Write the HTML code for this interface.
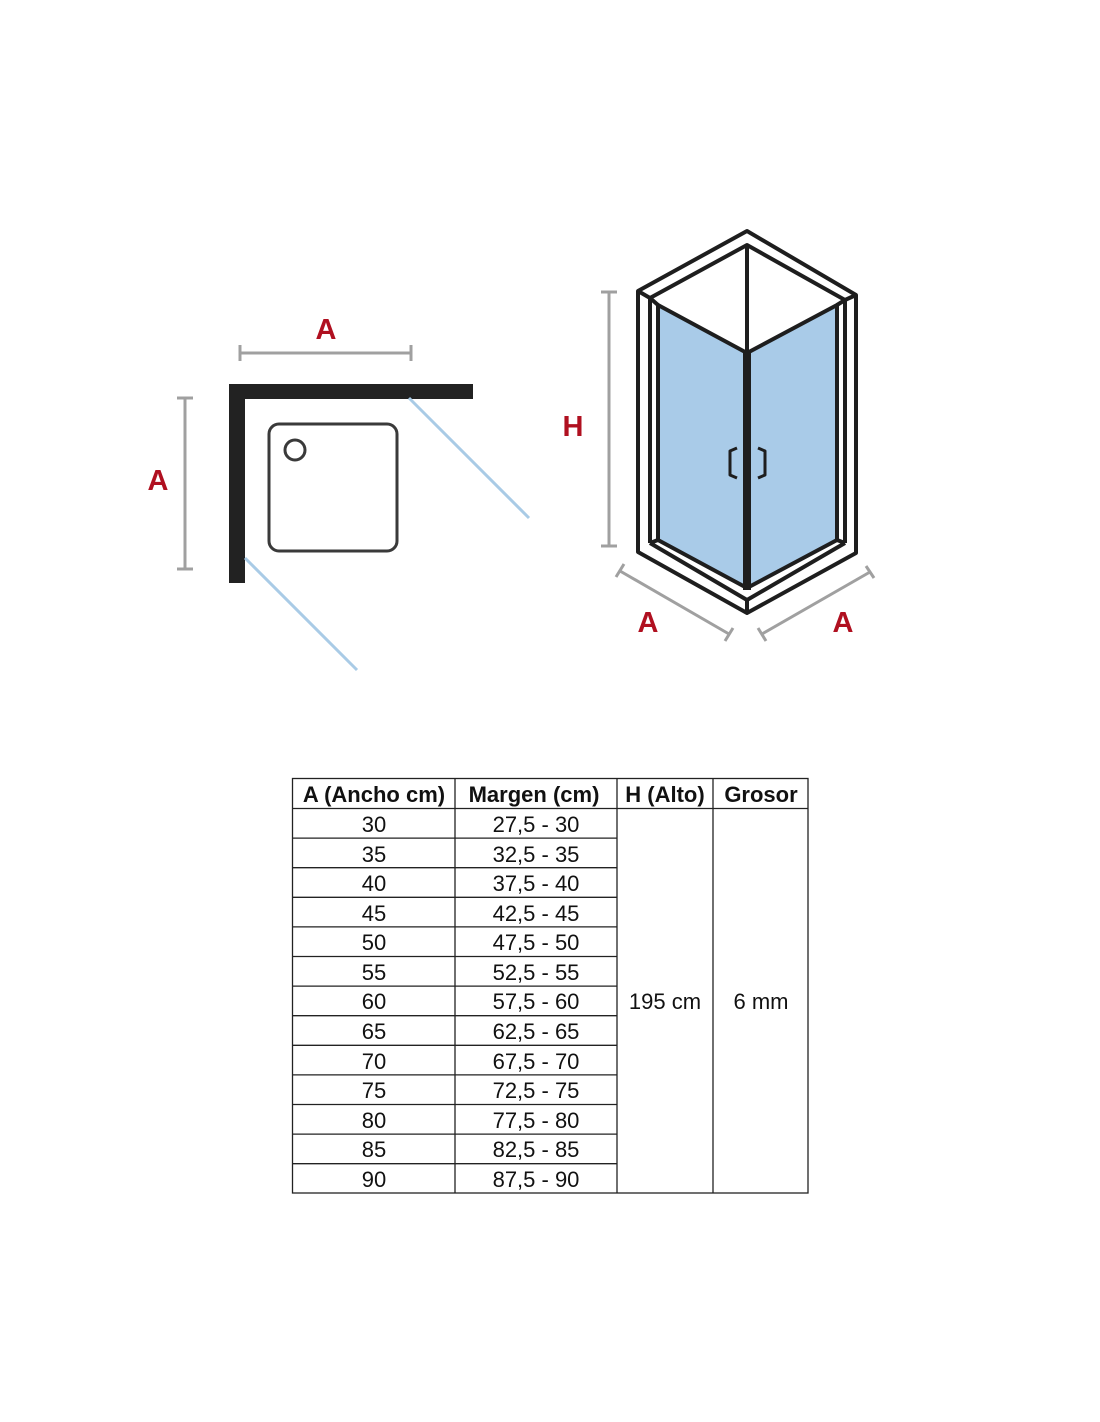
<!DOCTYPE html>
<html><head><style>
html,body{margin:0;padding:0;background:#fff;}
svg{display:block;}
text{font-family:"Liberation Sans",Arial,sans-serif;}
</style></head><body>
<svg width="1100" height="1422" viewBox="0 0 1100 1422">
<!-- Left plan diagram -->
<g stroke="#a0a0a0" stroke-width="3" fill="none">
<line x1="240" y1="353" x2="411" y2="353"/><line x1="240" y1="345" x2="240" y2="361"/><line x1="411" y1="345" x2="411" y2="361"/>
<line x1="185" y1="398" x2="185" y2="569"/><line x1="177" y1="398" x2="193" y2="398"/><line x1="177" y1="569" x2="193" y2="569"/>
</g>
<path d="M229 384 H473 V399 H245 V583 H229 Z" fill="#222"/>
<rect x="269" y="424" width="128" height="127" rx="10" fill="none" stroke="#3a3a3a" stroke-width="3"/>
<circle cx="295" cy="450" r="10" fill="none" stroke="#3a3a3a" stroke-width="3"/>
<g stroke="#a9cbe6" stroke-width="3"><line x1="409" y1="398" x2="529" y2="518"/><line x1="245" y1="558" x2="357" y2="670"/></g>
<g fill="#b01020" font-weight="bold" font-size="29" text-anchor="middle">
<text x="326" y="339">A</text><text x="158" y="490">A</text>
<text x="573" y="436">H</text><text x="648" y="632">A</text><text x="843" y="632">A</text>
</g>
<!-- Right iso diagram -->
<g stroke="#a0a0a0" stroke-width="3" fill="none">
<line x1="609" y1="292" x2="609" y2="546"/><line x1="601" y1="292" x2="617" y2="292"/><line x1="601" y1="546" x2="617" y2="546"/>
<line x1="620" y1="571" x2="729" y2="634"/><line x1="616" y1="577" x2="624" y2="564"/><line x1="725" y1="641" x2="733" y2="628"/>
<line x1="762" y1="634" x2="870" y2="572"/><line x1="758" y1="628" x2="766" y2="641"/><line x1="866" y1="566" x2="874" y2="578"/>
</g>
<polygon points="658,305 747,353 747,588 658,540" fill="#a9cbe8"/>
<polygon points="837,305 747,353 747,588 837,540" fill="#a9cbe8"/>
<g stroke="#1e1e1e" stroke-width="4" fill="none" stroke-linejoin="round">
<polygon points="747,231 856,295 856,553 747,613 638,552 638,291"/>
<polyline points="650,298 747,245 845,300"/>
<line x1="650" y1="298" x2="650" y2="543"/><line x1="845" y1="300" x2="845" y2="543"/>
<polyline points="650,543 747,600 845,543"/>
<line x1="638" y1="291" x2="650" y2="298"/><line x1="856" y1="295" x2="845" y2="300"/>
<line x1="747" y1="245" x2="747" y2="353"/>
<polygon points="658,305 747,353 837,305 837,540 747,588 658,540"/>
<line x1="650" y1="298" x2="658" y2="305"/><line x1="845" y1="300" x2="837" y2="305"/>
<line x1="650" y1="543" x2="658" y2="540"/><line x1="845" y1="543" x2="837" y2="540"/>
<line x1="747" y1="600" x2="747" y2="613"/>
<polyline points="737,448 730,451 730,475 737,478" stroke-width="3"/>
<polyline points="758,448 765,451 765,475 758,478" stroke-width="3"/>
</g>
<rect x="743" y="353" width="8" height="237" fill="#1e1e1e"/>
<!-- Table -->
<g stroke="#222" stroke-width="1.3" fill="none">
<rect x="292.5" y="778.5" width="515.5" height="414.5"/>
<line x1="455" y1="778" x2="455" y2="1193"/><line x1="617" y1="778" x2="617" y2="1193"/><line x1="713" y1="778" x2="713" y2="1193"/>
<line x1="292" y1="808.5" x2="808" y2="808.5"/>
<line x1="292" y1="838.1" x2="617" y2="838.1"/><line x1="292" y1="867.7" x2="617" y2="867.7"/><line x1="292" y1="897.3" x2="617" y2="897.3"/>
<line x1="292" y1="926.9" x2="617" y2="926.9"/><line x1="292" y1="956.5" x2="617" y2="956.5"/><line x1="292" y1="986.1" x2="617" y2="986.1"/>
<line x1="292" y1="1015.7" x2="617" y2="1015.7"/><line x1="292" y1="1045.3" x2="617" y2="1045.3"/><line x1="292" y1="1074.9" x2="617" y2="1074.9"/>
<line x1="292" y1="1104.5" x2="617" y2="1104.5"/><line x1="292" y1="1134.1" x2="617" y2="1134.1"/><line x1="292" y1="1163.7" x2="617" y2="1163.7"/>
</g>
<g font-size="22" fill="#111" text-anchor="middle">
<g font-weight="bold"><text x="374" y="802">A (Ancho cm)</text><text x="534" y="802">Margen (cm)</text><text x="665" y="802">H (Alto)</text><text x="761" y="802">Grosor</text></g>
<text x="374" y="832">30</text><text x="536" y="832">27,5 - 30</text>
<text x="374" y="862">35</text><text x="536" y="862">32,5 - 35</text>
<text x="374" y="891">40</text><text x="536" y="891">37,5 - 40</text>
<text x="374" y="921">45</text><text x="536" y="921">42,5 - 45</text>
<text x="374" y="950">50</text><text x="536" y="950">47,5 - 50</text>
<text x="374" y="980">55</text><text x="536" y="980">52,5 - 55</text>
<text x="374" y="1009">60</text><text x="536" y="1009">57,5 - 60</text>
<text x="374" y="1039">65</text><text x="536" y="1039">62,5 - 65</text>
<text x="374" y="1069">70</text><text x="536" y="1069">67,5 - 70</text>
<text x="374" y="1098">75</text><text x="536" y="1098">72,5 - 75</text>
<text x="374" y="1128">80</text><text x="536" y="1128">77,5 - 80</text>
<text x="374" y="1157">85</text><text x="536" y="1157">82,5 - 85</text>
<text x="374" y="1187">90</text><text x="536" y="1187">87,5 - 90</text>
<text x="665" y="1009">195 cm</text><text x="761" y="1009">6 mm</text>
</g>
</svg>
</body></html>
